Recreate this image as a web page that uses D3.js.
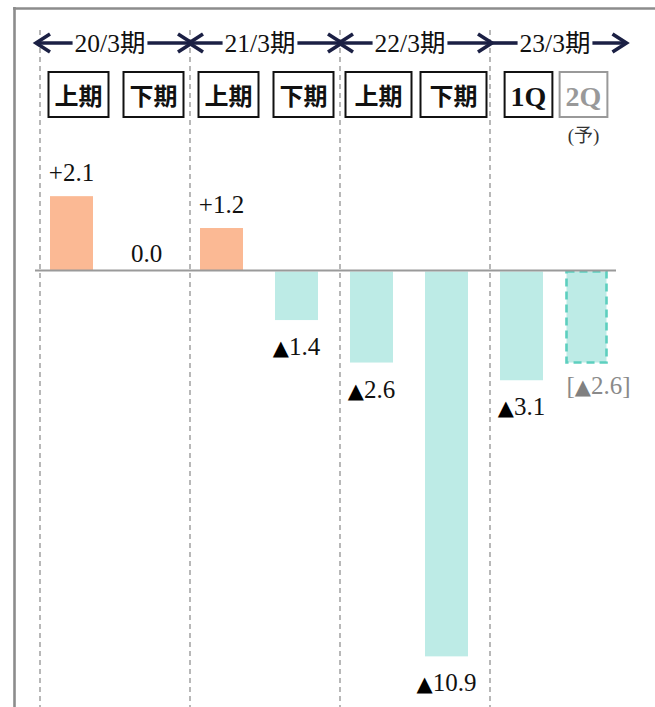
<!DOCTYPE html>
<html>
<head>
<meta charset="utf-8">
<script src="https://cdn.jsdelivr.net/npm/d3@7"></script>
<style>
  html, body { margin: 0; padding: 0; background: #fff; }
  svg { display: block; }
  .num { font-family: "Liberation Serif", "DejaVu Serif", "Noto Sans CJK JP", serif; }
  .jp  { font-family: "Liberation Serif", "Noto Sans CJK JP", serif; }
  .tri { font-family: "DejaVu Sans", sans-serif; }
</style>
</head>
<body>
<svg id="chart" width="655" height="707"></svg>
<script>
// Fiscal periods and their half-year / quarter columns
const periods = ["20/3期", "21/3期", "22/3期", "23/3期"];
const periodStart = [0, 2, 4, 6];           // first column index of each period
const columns = ["上期", "下期", "上期", "下期", "上期", "下期", "1Q", "2Q"];
const values = [2.1, 0.0, 1.2, -1.4, -2.6, -10.9, -3.1, -2.6];
const isForecast = [false, false, false, false, false, false, false, true];
const forecastNote = "(予)";

const W = 655, H = 707;
const svg = d3.select("#chart");

const C_POS = "#fbb994", C_NEG = "#bdebe6", C_FC_STROKE = "#5dcfbf";
const C_NAVY = "#1b2044", C_GRID = "#9a9a9a", C_GRAY = "#8c8c8c";

// scales
const x = d3.scaleLinear().domain([0, columns.length - 1]).range([71.5, 596.5]);
const y = d3.scaleLinear().domain([-1, 1]).range([270.5 + 35.4, 270.5 - 35.4]);
const barW = 43;
const fcShift = -10;
const colX = i => x(i) + (isForecast[i] ? fcShift : 0);

// frame
svg.append("line").attr("x1", 14.5).attr("x2", 14.5).attr("y1", 7).attr("y2", H)
  .attr("stroke", C_GRAY).attr("stroke-width", 2.6);
svg.append("line").attr("x1", 13).attr("x2", W).attr("y1", 8.5).attr("y2", 8.5)
  .attr("stroke", C_GRAY).attr("stroke-width", 2.6);

// dashed period dividers
const dividerX = p => x(periodStart[p]) - barW / 2 - 10;
svg.append("g").selectAll("line").data(periods).join("line")
  .attr("x1", (d, p) => dividerX(p)).attr("x2", (d, p) => dividerX(p))
  .attr("y1", 30).attr("y2", H)
  .attr("stroke", C_GRID).attr("stroke-width", 1.4)
  .attr("stroke-dasharray", "5,4");

// period headers with arrows
const headerY = 43;
const hdr = svg.append("g");
periods.forEach((p, pi) => {
  const i0 = periodStart[pi];
  const cx = (colX(i0) + colX(i0 + 1)) / 2 + 1;
  const t = hdr.append("text").attr("class", "jp")
    .attr("x", cx).attr("y", headerY + 8.5)
    .attr("text-anchor", "middle")
    .attr("font-size", 25.5).attr("fill", "#111")
    .text(p);
  const tw = t.node().getComputedTextLength();
  const leftTip = pi === 0 ? dividerX(0) - 4 : dividerX(pi) - 1;
  const rightTip = pi < periods.length - 1 ? dividerX(pi + 1) + 2 : x(columns.length - 1) + 30;
  const hasLeftHead = pi < periods.length - 1;
  const g = hdr.append("g").attr("stroke", C_NAVY).attr("stroke-width", 3.6)
    .attr("fill", "none").attr("stroke-linecap", "butt");
  g.append("line").attr("x1", leftTip + 1).attr("x2", cx - tw / 2 - 2)
    .attr("y1", headerY).attr("y2", headerY);
  g.append("line").attr("x1", cx + tw / 2 + 2).attr("x2", rightTip - 1)
    .attr("y1", headerY).attr("y2", headerY);
  if (hasLeftHead) {
    g.append("path").attr("d", `M${leftTip + 14},${headerY - 9} L${leftTip},${headerY} L${leftTip + 14},${headerY + 9}`)
      .attr("stroke-linejoin", "miter");
  }
  g.append("path").attr("d", `M${rightTip - 14},${headerY - 9} L${rightTip},${headerY} L${rightTip - 14},${headerY + 9}`)
    .attr("stroke-linejoin", "miter");
});

// column boxes
const boxTop = 72, boxH = 45;
const boxes = svg.append("g");
columns.forEach((c, i) => {
  const cx = isForecast[i] ? colX(i) - 3 : x(i) + 7;
  const col = isForecast[i] ? "#999" : "#111";
  const latin = /^[0-9A-Z]+$/.test(c);
  const t = boxes.append("text").attr("class", "jp")
    .attr("x", cx).attr("y", boxTop + (latin ? 34 : 33))
    .attr("text-anchor", "middle")
    .attr("font-size", latin ? 28 : 24).attr("font-weight", "bold")
    .attr("fill", col).text(c);
  const tw = t.node().getComputedTextLength();
  const bw = Math.max(tw + 12, 46) + (i >= 4 && i <= 5 ? 6 : 0);
  boxes.insert("rect", "text")
    .attr("x", cx - bw / 2).attr("y", boxTop)
    .attr("width", bw).attr("height", boxH)
    .attr("fill", "#fff").attr("stroke", col).attr("stroke-width", 2);
  if (isForecast[i]) {
    boxes.append("text").attr("class", "jp")
      .attr("x", cx).attr("y", boxTop + 70)
      .attr("text-anchor", "middle").attr("font-size", 19)
      .attr("fill", "#333").text(forecastNote);
  }
});

// bars
const bars = svg.append("g");
values.forEach((v, i) => {
  if (v === 0) return;
  const top = y(Math.max(v, 0)), bot = y(Math.min(v, 0));
  const r = bars.append("rect")
    .attr("x", colX(i) - barW / 2 + (isForecast[i] ? 1.5 : 0))
    .attr("y", top + (v < 0 ? 1 : 0))
    .attr("width", barW - (isForecast[i] ? 3 : 0))
    .attr("height", bot - top - (v < 0 ? 1 : 0))
    .attr("fill", v > 0 ? C_POS : C_NEG);
  if (isForecast[i]) {
    r.attr("stroke", C_FC_STROKE).attr("stroke-width", 2.6)
      .attr("stroke-dasharray", "8,5");
  }
});

// zero line
svg.append("line").attr("x1", 35).attr("x2", 616)
  .attr("y1", y(0)).attr("y2", y(0))
  .attr("stroke", C_GRID).attr("stroke-width", 2);

// value labels: positive "+x.x", zero "0.0", negative "▲x.x"
values.forEach((v, i) => {
  let ty;
  if (v > 0) ty = y(v) - 15;
  else if (v === 0) ty = y(0) - 9;
  else ty = y(v) + (isForecast[i] ? 31 : 35);
  const t = svg.append("text").attr("class", "num")
    .attr("x", x(i) + (isForecast[i] ? 2 : 0)).attr("y", ty)
    .attr("text-anchor", "middle")
    .attr("font-size", 25)
    .attr("fill", isForecast[i] ? "#8a8a8a" : "#111");
  if (isForecast[i]) t.append("tspan").text("[");
  if (v < 0) {
    t.append("tspan").attr("class", "tri").attr("font-size", 21)
      .attr("fill", isForecast[i] ? "#808080" : "#000").text("▲");
    t.append("tspan").text(Math.abs(v).toFixed(1));
  } else {
    t.append("tspan").text((v > 0 ? "+" : "") + v.toFixed(1));
  }
  if (isForecast[i]) t.append("tspan").text("]");
});
</script>
</body>
</html>
